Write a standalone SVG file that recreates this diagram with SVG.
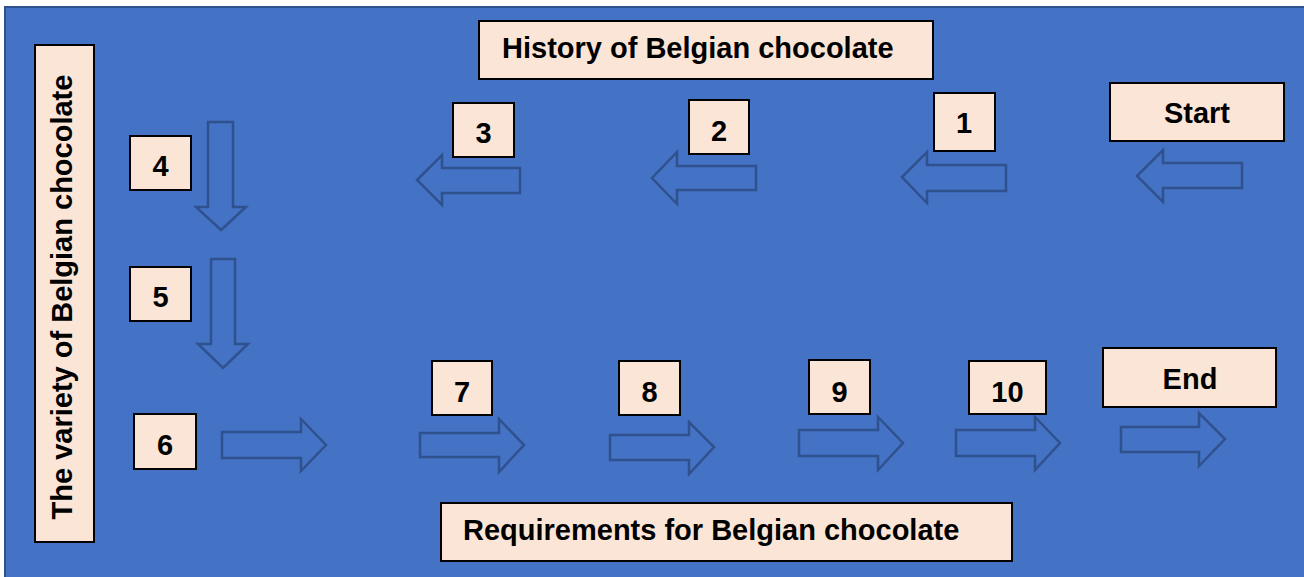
<svg xmlns="http://www.w3.org/2000/svg" width="1304" height="577" viewBox="0 0 1304 577">
<style>
.bg{fill:#4472C4;stroke:#2F528F;stroke-width:2}
.box{fill:#FBE5D6;stroke:#000;stroke-width:2}
.arr{fill:#4472C4;stroke:#2F528F;stroke-width:2.5;stroke-linejoin:miter}
.t{font-family:"Liberation Sans",Arial,sans-serif;font-weight:bold;font-size:29px;fill:#000}
.c{text-anchor:middle}
</style>
<rect x="0" y="0" width="1304" height="577" fill="#fff"/>
<rect class="bg" x="5" y="7" width="1310" height="580"/>
<g id="connectors">
<polygon class="arr" points="417,180 442,155 442,168 520,168 520,193 442,193 442,205"/>
<polygon class="arr" points="652,178 677,152 677,166 756,166 756,190 677,190 677,204"/>
<polygon class="arr" points="902,177 927,152 927,165 1006,165 1006,191 927,191 927,203"/>
<polygon class="arr" points="1137,176 1163,150 1163,163 1242,163 1242,188 1163,188 1163,202"/>
<polygon class="arr" points="208,122 233,122 233,207 246,207 221,230 196,207 208,207"/>
<polygon class="arr" points="211,259 235,259 235,344 248,344 223,368 198,344 211,344"/>
<polygon class="arr" points="222,432 301,432 301,419 326,445 301,471 301,458 222,458"/>
<polygon class="arr" points="420,433 499,433 499,419 524,445 499,472 499,457 420,457"/>
<polygon class="arr" points="610,435 689,435 689,422 714,447 689,474 689,460 610,460"/>
<polygon class="arr" points="799,430 878,430 878,417 903,443 878,470 878,456 799,456"/>
<polygon class="arr" points="956,430 1035,430 1035,417 1060,443 1035,470 1035,456 956,456"/>
<polygon class="arr" points="1121,427 1199,427 1199,413 1225,439 1199,466 1199,452 1121,452"/>
</g>
<g id="history"><rect class="box" x="479" y="21" width="454" height="58"/><text class="t" x="502" y="58">History of Belgian chocolate</text></g>
<g id="variety"><rect class="box" x="35" y="45" width="59" height="497"/><text class="t c" transform="translate(72,297) rotate(-90)" x="0" y="0">The variety of Belgian chocolate</text></g>
<g id="requirements"><rect class="box" x="441" y="503" width="571" height="58"/><text class="t" x="463" y="540">Requirements for Belgian chocolate</text></g>
<g id="start"><rect class="box" x="1110" y="83" width="174" height="58"/><text class="t c" x="1197" y="123">Start</text></g>
<g id="end"><rect class="box" x="1103" y="348" width="173" height="59"/><text class="t c" x="1190" y="389">End</text></g>
<g id="n1"><rect class="box" x="934" y="93" width="61" height="58"/><text class="t c" x="964" y="133">1</text></g>
<g id="n2"><rect class="box" x="689" y="100" width="60" height="54"/><text class="t c" x="719" y="141">2</text></g>
<g id="n3"><rect class="box" x="453" y="103" width="61" height="54"/><text class="t c" x="483.5" y="143">3</text></g>
<g id="n4"><rect class="box" x="130" y="136" width="61" height="54"/><text class="t c" x="160.5" y="176">4</text></g>
<g id="n5"><rect class="box" x="130" y="267" width="61" height="54"/><text class="t c" x="160.5" y="307">5</text></g>
<g id="n6"><rect class="box" x="134" y="414" width="62" height="55"/><text class="t c" x="165" y="455">6</text></g>
<g id="n7"><rect class="box" x="432" y="361" width="60" height="54"/><text class="t c" x="462" y="402">7</text></g>
<g id="n8"><rect class="box" x="619" y="361" width="61" height="54"/><text class="t c" x="649.5" y="402">8</text></g>
<g id="n9"><rect class="box" x="809" y="360" width="61" height="54"/><text class="t c" x="839.5" y="402">9</text></g>
<g id="n10"><rect class="box" x="969" y="361" width="77" height="53"/><text class="t c" x="1007.5" y="402">10</text></g>
</svg>
